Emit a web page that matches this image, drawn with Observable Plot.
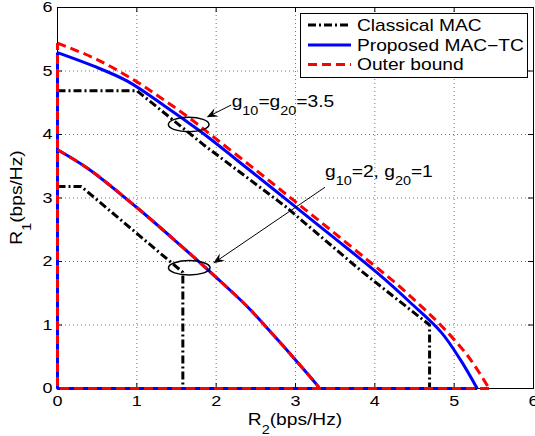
<!DOCTYPE html>
<html>
<head>
<meta charset="utf-8">
<script src="https://cdn.jsdelivr.net/npm/d3@7"></script>
<script src="https://cdn.jsdelivr.net/npm/@observablehq/plot@0.6"></script>
<style>
html,body{margin:0;padding:0;background:#fff;}
#chart{width:535px;height:436px;overflow:hidden;}
</style>
</head>
<body>
<div id="chart"></div>
<script>
// ---------- data (R2, R1 in bps/Hz) ----------
// case g10 = g20 = 3.5
const classicalHighR2 = [0, 1.0, 1.85, 2.87, 3.83, 4.69, 4.69];
const classicalHighR1 = [4.69, 4.69, 3.83, 2.87, 1.85, 1.0, 0];
const proposedHighR2 = [0, 0.45, 0.88, 1.35, 1.8, 2.4, 2.93, 3.46, 4.05, 4.45, 4.84, 5.08, 5.29];
const proposedHighR1 = [5.29, 5.08, 4.84, 4.45, 4.05, 3.46, 2.93, 2.4, 1.8, 1.35, 0.88, 0.45, 0];
const outerHighR2 = [0, 0.5, 0.96, 1.3, 1.64, 2.0, 2.5, 2.97, 3.44, 3.93, 4.28, 4.58, 4.86, 5.18, 5.44];
const outerHighR1 = [5.44, 5.18, 4.86, 4.58, 4.28, 3.93, 3.44, 2.97, 2.5, 2.0, 1.64, 1.3, 0.96, 0.5, 0];
// region edges along the axes
const proposedAxesR2 = [5.29, 0, 0];
const proposedAxesR1 = [0, 0, 5.29];
const outerAxesR2 = [5.44, 0, 0];
const outerAxesR1 = [0, 0, 5.44];
// case g10 = 2, g20 = 1
const classicalLowR2 = [0, 0.3, 1.58, 1.58];
const classicalLowR1 = [3.18, 3.18, 1.83, 0];
const proposedLowR2 = [0, 0.4, 1.0, 1.5, 2.0, 2.4, 2.73, 3.0, 3.28, 3.3];
const proposedLowR1 = [3.76, 3.45, 2.85, 2.31, 1.75, 1.28, 0.83, 0.45, 0.04, 0];
const outerLowR2 = [0, 0.4, 1.0, 1.5, 2.0, 2.4, 2.73, 3.0, 3.28, 3.3];
const outerLowR1 = [3.76, 3.45, 2.85, 2.31, 1.75, 1.28, 0.83, 0.45, 0.04, 0];

const xTicks = [0, 1, 2, 3, 4, 5, 6];
const yTicks = [0, 1, 2, 3, 4, 5, 6];
const gridValues = [1, 2, 3, 4, 5];

const legendLabels = ["Classical MAC", "Proposed MAC\u2212TC", "Outer bound"];

// annotations (data units)
const ellipseCenters = [[1.66, 4.15], [1.667, 1.893]];
const ellipseRadii = [[0.256, 0.114], [0.262, 0.113]];
const arrowTails = [[2.196, 4.457], [3.378, 3.161]];
const arrowTips = [[1.887, 4.263], [1.970, 1.964]];
const noteAnchors = [[2.202, 4.425], [3.378, 3.323]];
const noteTexts = [
  [["g"], ["10", 1], ["=g"], ["20", 1], ["=3.5"]],
  [["g"], ["10", 1], ["=2, g"], ["20", 1], ["=1"]]
];

// ---------- build ----------
const rows = (series, r2, r1) => r2.map((v, i) => ({series, R2: v, R1: r1[i]}));
const classicalRows = [...rows("high", classicalHighR2, classicalHighR1), ...rows("low", classicalLowR2, classicalLowR1)];
const proposedAxes = rows("axes", proposedAxesR2, proposedAxesR1);
const outerAxes = rows("axes", outerAxesR2, outerAxesR1);
const proposedCurves = [...rows("high", proposedHighR2, proposedHighR1), ...rows("low", proposedLowR2, proposedLowR1)];
const outerCurves = [...rows("high", outerHighR2, outerHighR1), ...rows("low", outerLowR2, outerLowR1)];

const FONT = "'Liberation Sans', Arial, Helvetica, sans-serif";
const W = 535, H = 436, ML = 57, MR = 2, MT = 7, MB = 48;
const TL = 5; // inward tick length
const blue = "#0000ff", red = "#ff0000";
const lineBase = {x: "R2", y: "R1", z: "series", strokeWidth: 3, strokeLinecap: "butt"};

const plot = Plot.plot({
  width: W, height: H,
  marginLeft: ML, marginRight: MR, marginTop: MT, marginBottom: MB,
  style: {fontFamily: FONT, fontSize: "15px", background: "white", color: "black", overflow: "visible"},
  x: {domain: [0, 6], ticks: xTicks, tickFormat: d3.format("d"), tickSize: 0, tickPadding: 7, label: null},
  y: {domain: [0, 6], ticks: yTicks, tickFormat: d3.format("d"), tickSize: 0, tickPadding: 5, label: null},
  marks: [
    Plot.ruleX(gridValues, {stroke: "#000", strokeOpacity: 0.55, strokeDasharray: "1,3"}),
    Plot.ruleY(gridValues, {stroke: "#000", strokeOpacity: 0.55, strokeDasharray: "1,3"}),
    Plot.frame({stroke: "black", strokeWidth: 1}),
    Plot.tickX(xTicks, {x: d => d, insetTop: H - MT - MB - TL, stroke: "black"}),
    Plot.tickX(xTicks, {x: d => d, insetBottom: H - MT - MB - TL, stroke: "black"}),
    Plot.tickY(yTicks, {y: d => d, insetRight: W - ML - MR - TL, stroke: "black"}),
    Plot.tickY(yTicks, {y: d => d, insetLeft: W - ML - MR - TL, stroke: "black"}),
    Plot.line(classicalRows, {...lineBase, stroke: "black", strokeDasharray: "8,3,2,3", strokeLinejoin: "miter"}),
    Plot.line(proposedAxes, {...lineBase, stroke: blue, strokeLinejoin: "miter"}),
    Plot.line(proposedCurves, {...lineBase, stroke: blue, strokeLinejoin: "round", curve: "catmull-rom"}),
    Plot.line(outerAxes, {...lineBase, stroke: red, strokeDasharray: "9,5", strokeLinejoin: "miter"}),
    Plot.line(outerCurves, {...lineBase, stroke: red, strokeDasharray: "9,5", curve: "catmull-rom"})
  ]
});
document.getElementById("chart").appendChild(plot);

const sx = plot.scale("x"), sy = plot.scale("y");
const X = sx.apply ? v => sx.apply(v) : d3.scaleLinear(sx.domain, sx.range);
const Y = sy.apply ? v => sy.apply(v) : d3.scaleLinear(sy.domain, sy.range);

const svg = d3.select(plot);
const ann = svg.append("g").attr("font-family", FONT);

function richText(g, x, y, parts, size, subSize, shift) {
  const t = g.append("text").attr("x", x).attr("y", y).attr("font-size", size)
    .attr("fill", "black").attr("text-anchor", "start");
  let prevSub = false;
  parts.forEach(([s, sub]) => {
    const ts = t.append("tspan").text(s);
    if (sub) { ts.attr("font-size", subSize).attr("dy", prevSub ? 0 : shift); prevSub = true; }
    else { if (prevSub) ts.attr("dy", -shift); prevSub = false; }
  });
  return t;
}

// ellipses
ellipseCenters.forEach(([cx, cy], i) => {
  const [rx, ry] = ellipseRadii[i];
  ann.append("ellipse")
    .attr("cx", X(cx)).attr("cy", Y(cy))
    .attr("rx", X(cx + rx) - X(cx)).attr("ry", Y(cy) - Y(cy + ry))
    .attr("fill", "none").attr("stroke", "black").attr("stroke-width", 1.5);
});
// arrows
arrowTails.forEach(([tx, ty], i) => {
  const [hx, hy] = arrowTips[i];
  const x1 = X(tx), y1 = Y(ty), x2 = X(hx), y2 = Y(hy);
  const a = Math.atan2(y2 - y1, x2 - x1), c = Math.cos(a), s = Math.sin(a);
  const L = 11, Wd = 4.5, N = 7;
  ann.append("line").attr("x1", x1).attr("y1", y1).attr("x2", x2 - N * c).attr("y2", y2 - N * s)
    .attr("stroke", "black").attr("stroke-width", 1);
  const p = [[x2, y2], [x2 - L * c + Wd * s, y2 - L * s - Wd * c], [x2 - N * c, y2 - N * s], [x2 - L * c - Wd * s, y2 - L * s + Wd * c]];
  ann.append("polygon").attr("points", p.map(q => q.join(",")).join(" ")).attr("fill", "black");
});
// notes
noteAnchors.forEach(([nx, ny], i) => {
  richText(ann, X(nx), Y(ny), noteTexts[i], 16, 12, 8);
});

// axis labels
richText(ann, (ML + W - MR) / 2, 425, [["R"], ["2", 1], ["(bps/Hz)"]], 16, 12, 9).attr("text-anchor", "middle");
richText(ann, 0, 0, [["R"], ["1", 1], ["(bps/Hz)"]], 16, 12, 9)
  .attr("text-anchor", "middle").attr("transform", `translate(22,${(MT + H - MB) / 2}) rotate(-90)`);

// legend
const lg = svg.append("g").attr("font-family", FONT);
lg.append("rect").attr("x", 300.5).attr("y", 13.5).attr("width", 227).attr("height", 64)
  .attr("fill", "white").attr("stroke", "black").attr("stroke-width", 1);
const legendStyles = [
  {stroke: "black", dash: "8,3,2,3"},
  {stroke: blue, dash: null},
  {stroke: red, dash: "9,5"}
];
const legendY = [25, 45, 64.5];
legendLabels.forEach((lab, i) => {
  const ln = lg.append("line").attr("x1", 308).attr("x2", 351).attr("y1", legendY[i]).attr("y2", legendY[i])
    .attr("stroke", legendStyles[i].stroke).attr("stroke-width", 3);
  if (legendStyles[i].dash) ln.attr("stroke-dasharray", legendStyles[i].dash);
  lg.append("text").attr("x", 357).attr("y", legendY[i] + 5.7).attr("font-size", 16)
    .attr("text-anchor", "start").attr("fill", "black").text(lab);
});

// horizontal stretch of all text (reference glyphs are wide)
const S = 1.2;
plot.querySelectorAll("text").forEach(t => {
  const x = parseFloat(t.getAttribute("x")) || 0, y = parseFloat(t.getAttribute("y")) || 0;
  const tr = t.getAttribute("transform") || "";
  t.setAttribute("transform", `${tr} translate(${x},${y}) scale(${S},1) translate(${-x},${-y})`);
});
</script>
</body>
</html>
